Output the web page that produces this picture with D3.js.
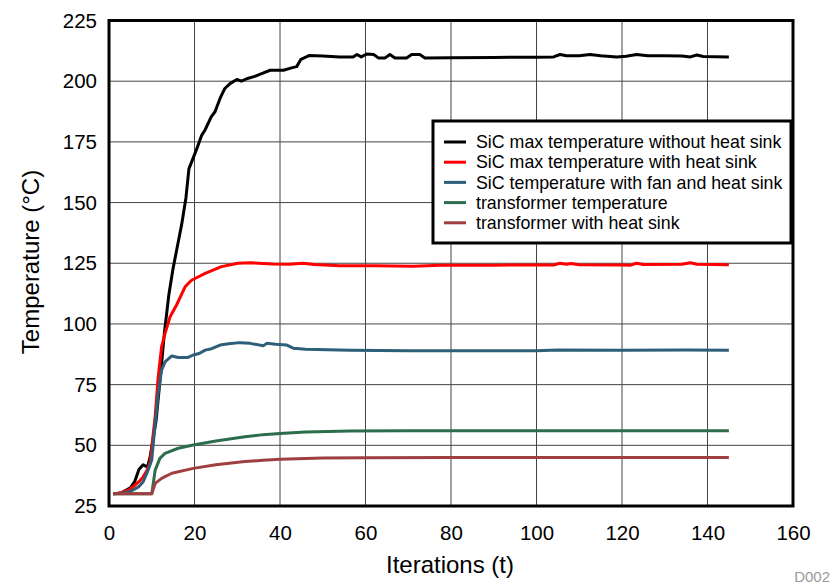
<!DOCTYPE html>
<html>
<head>
<meta charset="utf-8">
<script src="https://cdn.jsdelivr.net/npm/d3@7"></script>
<style>
  body { margin: 0; background: #fff; }
  svg text { font-family: "Liberation Sans", Arial, sans-serif; }
</style>
</head>
<body>
<div id="chart"></div>
<script>
var seriesNames = ["SiC max temperature without heat sink", "SiC max temperature with heat sink",
  "SiC temperature with fan and heat sink", "transformer temperature", "transformer with heat sink"];
var seriesColors = ["#000000", "#ff0000", "#2d5f79", "#2c6d4b", "#a03f40"];

var xTicks = [0, 20, 40, 60, 80, 100, 120, 140, 160];
var yTicks = [25, 50, 75, 100, 125, 150, 175, 200, 225];

// [iteration, temperature]
var noSink = [[1,30],[3,30.5],[5,32.5],[6,35],[7,40],[8,42],[9,41],[9.6,45],[11,60],[12,78],[13,97],[14,112],[15,123],
  [16,132],[17,141],[18,152],[18.7,164],[19.5,167.5],[20.5,172],[21.7,177.8],[22.5,180],[23.9,185.3],[24.8,187.4],
  [26,193],[27.1,197],[28.3,199],[29.9,200.7],[31,200],[32.2,201],[34.1,202],[36,203.3],[37.7,204.5],[40.8,204.5],
  [42.7,205.5],[43.9,206],[44.9,209],[46.9,210.6],[50,210.4],[54,210],[57.1,210],[58,211],[59,210],[60.3,211.2],
  [61.9,211],[63,209.6],[64.6,209.6],[65.7,211],[66.9,209.6],[69.6,209.6],[70.8,211],[72.7,211],[73.9,209.6],
  [80,209.7],[90,209.8],[100,209.9],[104,210],[105.5,211],[107,210.5],[110,210.5],[112.5,211],[115,210.5],
  [118.8,210],[121,210.3],[123.4,211],[126,210.5],[130,210.5],[134,210.4],[136,210],[137.5,210.8],[139,210.2],[145,210]];

var withSink = [[1,30],[3,30.5],[5,32],[7,35],[8,37],[9,40],[9.6,43],[10,49],[10.8,62],[11.5,78],[12.3,90.6],
  [13.1,96],[14.3,103],[15.8,107.8],[17.8,115.3],[19.3,118],[22.5,120.8],[26.3,123.6],[30.2,125],[33,125.2],
  [36,124.9],[38.4,124.7],[42,124.6],[45.4,125],[48,124.5],[54,124],[62,124],[71.2,123.8],[77.5,124.2],[90,124.2],
  [100,124.3],[104,124.3],[105.5,125],[107,124.6],[108,124.9],[110,124.4],[120,124.3],[122,124.2],[123.4,125],
  [125,124.5],[134,124.6],[136,125.2],[137.5,124.6],[145,124.4]];

var fanSink = [[1,30],[3,30.3],[5,31],[7,33],[8,35],[9.2,40],[10,44],[10.8,59],[11.5,71.4],[12.3,81],[13.1,84.4],
  [14.7,86.8],[16.2,86.2],[18.5,86.2],[19.7,87.2],[21.1,87.8],[22.5,89.2],[24,89.8],[26,91.3],[28,91.8],[30.6,92.3],
  [33,92],[36.1,91],[36.9,92],[39,91.6],[41.6,91.3],[43.1,90],[46,89.6],[56.4,89.2],[70,89],[90,89],[100,89],
  [105,89.3],[120,89.2],[135,89.3],[145,89.2]];

var transformer = [[1,30],[10,30],[10.8,39.8],[11.9,44.6],[13.1,46.7],[16.2,48.8],[19.7,50.1],[25,51.8],[31.8,53.5],
  [36,54.4],[40,54.9],[46,55.5],[56.4,55.9],[70,56],[100,56],[145,56]];

var transformerSink = [[1,30],[10,30],[10.8,34.3],[12.3,36.4],[14.7,38.5],[19.7,40.5],[25,42],[31.8,43.3],
  [36,43.8],[40,44.3],[50,44.8],[60,44.9],[80,45],[145,45]];

var allSeries = [noSink, withSink, fanSink, transformer, transformerSink];

var margin = {left: 109, top: 20.5, right: 39, bottom: 78};
var width = 832 - margin.left - margin.right,
    height = 584 - margin.top - margin.bottom;

var svg = d3.select("#chart").append("svg")
    .attr("width", 832)
    .attr("height", 584);

var g = svg.append("g")
    .attr("transform", "translate(" + margin.left + "," + margin.top + ")");

var x = d3.scaleLinear().domain([0, 160]).range([0, width]);
var y = d3.scaleLinear().domain([25, 225]).range([height, 0]);

// grid
g.selectAll(".vgrid").data(xTicks).enter().append("line")
    .attr("x1", d => x(d)).attr("x2", d => x(d))
    .attr("y1", 0).attr("y2", height)
    .attr("stroke", "#444").attr("stroke-width", 1);
g.selectAll(".hgrid").data(yTicks).enter().append("line")
    .attr("y1", d => y(d)).attr("y2", d => y(d))
    .attr("x1", 0).attr("x2", width)
    .attr("stroke", "#444").attr("stroke-width", 1);

// axes (labels only)
var xAxis = g.append("g")
    .attr("transform", `translate(0,${height})`)
    .call(d3.axisBottom(x).tickValues(xTicks).tickSize(0).tickPadding(19));
var yAxis = g.append("g")
    .call(d3.axisLeft(y).tickValues(yTicks).tickSize(0).tickPadding(12));
[xAxis, yAxis].forEach(a => {
  a.select(".domain").remove();
  a.selectAll("text").attr("font-size", 20.5).attr("fill", "#000")
    .style("font-family", "'Liberation Sans', Arial, sans-serif");
});

var line = d3.line()
    .x(d => x(d[0]))
    .y(d => y(d[1]));

allSeries.forEach((s, i) => {
  g.append("path")
    .attr("d", line(s))
    .attr("fill", "none")
    .attr("stroke", seriesColors[i])
    .attr("stroke-width", 3)
    .attr("stroke-linejoin", "round");
});

// frame
g.append("rect")
    .attr("width", width).attr("height", height)
    .attr("fill", "none").attr("stroke", "#000").attr("stroke-width", 3);

// legend
var leg = svg.append("g").attr("transform", "translate(433,121)");
leg.append("rect")
    .attr("width", 358).attr("height", 122)
    .attr("fill", "#fff").attr("stroke", "#000").attr("stroke-width", 3);
seriesNames.forEach((n, i) => {
  var row = leg.append("g").attr("transform", `translate(0,${21 + i * 20.2})`);
  row.append("line").attr("x1", 11).attr("x2", 33)
    .attr("stroke", seriesColors[i]).attr("stroke-width", 3);
  row.append("text").attr("x", 43).attr("dy", "0.35em")
    .attr("font-size", 17.8).attr("fill", "#000").text(n);
});

// titles
svg.append("text")
    .attr("x", margin.left + width / 2 - 1).attr("y", 573)
    .attr("text-anchor", "middle").attr("font-size", 24).text("Iterations (t)");
svg.append("text")
    .attr("transform", "translate(39,262) rotate(-90)")
    .attr("text-anchor", "middle").attr("font-size", 24).text("Temperature (°C)");
svg.append("text")
    .attr("x", 830).attr("y", 582)
    .attr("text-anchor", "end").attr("font-size", 15).attr("fill", "#999").text("D002");
</script>
</body>
</html>
